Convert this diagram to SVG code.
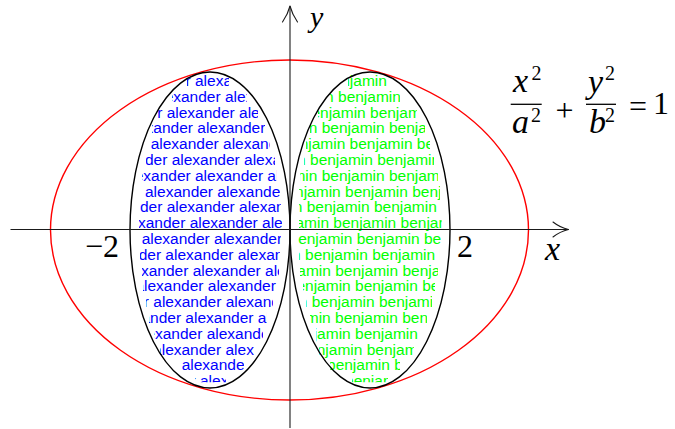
<svg xmlns="http://www.w3.org/2000/svg" width="675" height="429" viewBox="0 0 675 429">
<style>
.ax{stroke:#1a1a1a;stroke-width:1.1;fill:none}
.ah{stroke:#1a1a1a;stroke-width:1.1;fill:none;stroke-linecap:round;stroke-linejoin:round}
.el{fill:none;stroke:#000;stroke-width:1.4}
.red{fill:none;stroke:#ff0000;stroke-width:1.4}
.bl{font-family:"Liberation Sans",Arial,sans-serif;font-size:15.5px;fill:#0000ff}
.gr{font-family:"Liberation Sans",Arial,sans-serif;font-size:15.5px;fill:#00ff00}
.m{font-family:"Liberation Serif","Times New Roman",serif;font-size:32px;fill:#000}
.mi{font-family:"Liberation Serif","Times New Roman",serif;font-size:34px;font-style:italic;fill:#000}
.lab{font-family:"Liberation Serif","Times New Roman",serif;font-size:30px;font-style:italic;fill:#000}
.sup{font-family:"Liberation Serif","Times New Roman",serif;font-size:20px;fill:#000}
.bar{stroke:#000;stroke-width:1.3}
</style>
<defs>
<clipPath id="clipL">
<rect x="187" y="74" width="42" height="15.8"/>
<rect x="172" y="89.8" width="75" height="15.8"/>
<rect x="157" y="105.6" width="101" height="15.8"/>
<rect x="152" y="121.4" width="113" height="15.8"/>
<rect x="149" y="137.2" width="121" height="15.8"/>
<rect x="146" y="153" width="129" height="15.8"/>
<rect x="142" y="168.8" width="135" height="15.8"/>
<rect x="142" y="184.6" width="138" height="15.8"/>
<rect x="140" y="200.4" width="141" height="15.8"/>
<rect x="139" y="216.2" width="143" height="15.8"/>
<rect x="140" y="232" width="141" height="15.8"/>
<rect x="140" y="247.8" width="140" height="15.8"/>
<rect x="142" y="263.6" width="137" height="15.8"/>
<rect x="143" y="279.4" width="134" height="15.8"/>
<rect x="146" y="295.2" width="127" height="15.8"/>
<rect x="149" y="311" width="118" height="15.8"/>
<rect x="154" y="326.8" width="109" height="15.8"/>
<rect x="160" y="342.6" width="94" height="15.8"/>
<rect x="178" y="358.4" width="66" height="15.8"/>
<rect x="195" y="374.2" width="31" height="8"/>
</clipPath>
<clipPath id="clipR">
<rect x="348" y="74" width="39" height="15.8"/>
<rect x="330" y="89.8" width="70" height="15.8"/>
<rect x="318" y="105.6" width="99" height="15.8"/>
<rect x="310" y="121.4" width="115" height="15.8"/>
<rect x="306" y="137.2" width="124" height="15.8"/>
<rect x="304" y="153" width="130" height="15.8"/>
<rect x="300" y="168.8" width="138" height="15.8"/>
<rect x="299" y="184.6" width="141" height="15.8"/>
<rect x="299" y="200.4" width="142" height="15.8"/>
<rect x="299" y="216.2" width="143" height="15.8"/>
<rect x="298" y="232" width="143" height="15.8"/>
<rect x="299" y="247.8" width="141" height="15.8"/>
<rect x="300" y="263.6" width="138" height="15.8"/>
<rect x="303" y="279.4" width="132" height="15.8"/>
<rect x="306" y="295.2" width="126" height="15.8"/>
<rect x="310" y="311" width="117" height="15.8"/>
<rect x="316" y="326.8" width="105" height="15.8"/>
<rect x="319" y="342.6" width="95" height="15.8"/>
<rect x="330" y="358.4" width="70" height="15.8"/>
<rect x="352" y="374.2" width="36" height="8"/>
</clipPath>
</defs>

<g id="outer-ellipse">
<ellipse class="red" cx="289.5" cy="230" rx="239" ry="170"/>
</g>

<g id="left-ellipse">
<g clip-path="url(#clipL)" class="bl">
<text x="50.2" y="86">alexander alexander alexander alexander alexander</text>
<text x="7.8" y="101.8">alexander alexander alexander alexander alexander</text>
<text x="21.9" y="117.6">alexander alexander alexander alexander alexander</text>
<text x="-19.9" y="133.4">alexander alexander alexander alexander alexander</text>
<text x="5.9" y="149.2">alexander alexander alexander alexander alexander</text>
<text x="26.9" y="165">alexander alexander alexander alexander alexander</text>
<text x="-22.2" y="180.8">alexander alexander alexander alexander alexander</text>
<text x="0.2" y="196.6">alexander alexander alexander alexander alexander</text>
<text x="21.9" y="212.4">alexander alexander alexander alexander alexander</text>
<text x="-27.5" y="228.2">alexander alexander alexander alexander alexander</text>
<text x="-3.1" y="244">alexander alexander alexander alexander alexander</text>
<text x="20.6" y="259.8">alexander alexander alexander alexander alexander</text>
<text x="-24.5" y="275.6">alexander alexander alexander alexander alexander</text>
<text x="-9.4" y="291.4">alexander alexander alexander alexander alexander</text>
<text x="8.5" y="307.2">alexander alexander alexander alexander alexander</text>
<text x="-31.8" y="323">alexander alexander alexander alexander alexander</text>
<text x="-10.5" y="338.8">alexander alexander alexander alexander alexander</text>
<text x="8.3" y="354.6">alexander alexander alexander alexander alexander</text>
<text x="36.9" y="370.4">alexander alexander alexander alexander alexander</text>
<text x="55.2" y="386.2">alexander alexander alexander alexander alexander</text>
</g>
<ellipse class="el" cx="210" cy="230" rx="80" ry="158"/>
</g>

<g id="right-ellipse">
<g clip-path="url(#clipR)" class="gr">
<text x="189.6" y="86">benjamin benjamin benjamin benjamin benjamin</text>
<text x="203.6" y="101.8">benjamin benjamin benjamin benjamin benjamin</text>
<text x="168.4" y="117.6">benjamin benjamin benjamin benjamin benjamin</text>
<text x="187.3" y="133.4">benjamin benjamin benjamin benjamin benjamin</text>
<text x="148" y="149.2">benjamin benjamin benjamin benjamin benjamin</text>
<text x="175.6" y="165">benjamin benjamin benjamin benjamin benjamin</text>
<text x="120.1" y="180.8">benjamin benjamin benjamin benjamin benjamin</text>
<text x="143.4" y="196.6">benjamin benjamin benjamin benjamin benjamin</text>
<text x="172.3" y="212.4">benjamin benjamin benjamin benjamin benjamin</text>
<text x="131.7" y="228.2">benjamin benjamin benjamin benjamin benjamin</text>
<text x="155.1" y="244">benjamin benjamin benjamin benjamin benjamin</text>
<text x="170.6" y="259.8">benjamin benjamin benjamin benjamin benjamin</text>
<text x="133.6" y="275.6">benjamin benjamin benjamin benjamin benjamin</text>
<text x="153.4" y="291.4">benjamin benjamin benjamin benjamin benjamin</text>
<text x="177.3" y="307.2">benjamin benjamin benjamin benjamin benjamin</text>
<text x="133.4" y="323">benjamin benjamin benjamin benjamin benjamin</text>
<text x="153.4" y="338.8">benjamin benjamin benjamin benjamin benjamin</text>
<text x="165.1" y="354.6">benjamin benjamin benjamin benjamin benjamin</text>
<text x="192.6" y="370.4">benjamin benjamin benjamin benjamin benjamin</text>
<text x="210.6" y="386.2">benjamin benjamin benjamin benjamin benjamin</text>
</g>
<ellipse class="el" cx="370" cy="230" rx="80" ry="158"/>
</g>

<g id="connectors">
<g id="x-axis">
<line class="ax" x1="10.5" y1="229.5" x2="568.5" y2="229.5"/>
<path class="ah" d="M553,222 Q560,227.5 568.5,229.5 Q560,231.5 553,237"/>
</g>
<g id="y-axis">
<line class="ax" x1="290" y1="428" x2="290" y2="6"/>
<path class="ah" d="M282.5,22 Q288,14 290,6 Q292,14 297.5,22"/>
</g>
</g>

<g id="labels">
<text class="mi" x="545" y="259.5">x</text>
<text class="lab" x="310" y="27">y</text>
<text class="m" x="119" y="256.5" text-anchor="end">−2</text>
<text class="m" x="457" y="256.5">2</text>
</g>

<g id="equation">
<text class="mi" x="513" y="92">x</text>
<text class="sup" x="531.5" y="80">2</text>
<line class="bar" x1="510.7" y1="104.3" x2="541.7" y2="104.3"/>
<text class="mi" x="512" y="132.7">a</text>
<text class="sup" x="531" y="121.5">2</text>
<text class="m" x="564.5" y="121" text-anchor="middle">+</text>
<text class="mi" x="588" y="93">y</text>
<text class="sup" x="605" y="80">2</text>
<line class="bar" x1="586" y1="104.3" x2="616" y2="104.3"/>
<text class="mi" x="589" y="133">b</text>
<text class="sup" x="605" y="121.5">2</text>
<text class="m" x="638" y="117" text-anchor="middle">=</text>
<text class="m" x="661" y="113.5" text-anchor="middle">1</text>
</g>
</svg>
